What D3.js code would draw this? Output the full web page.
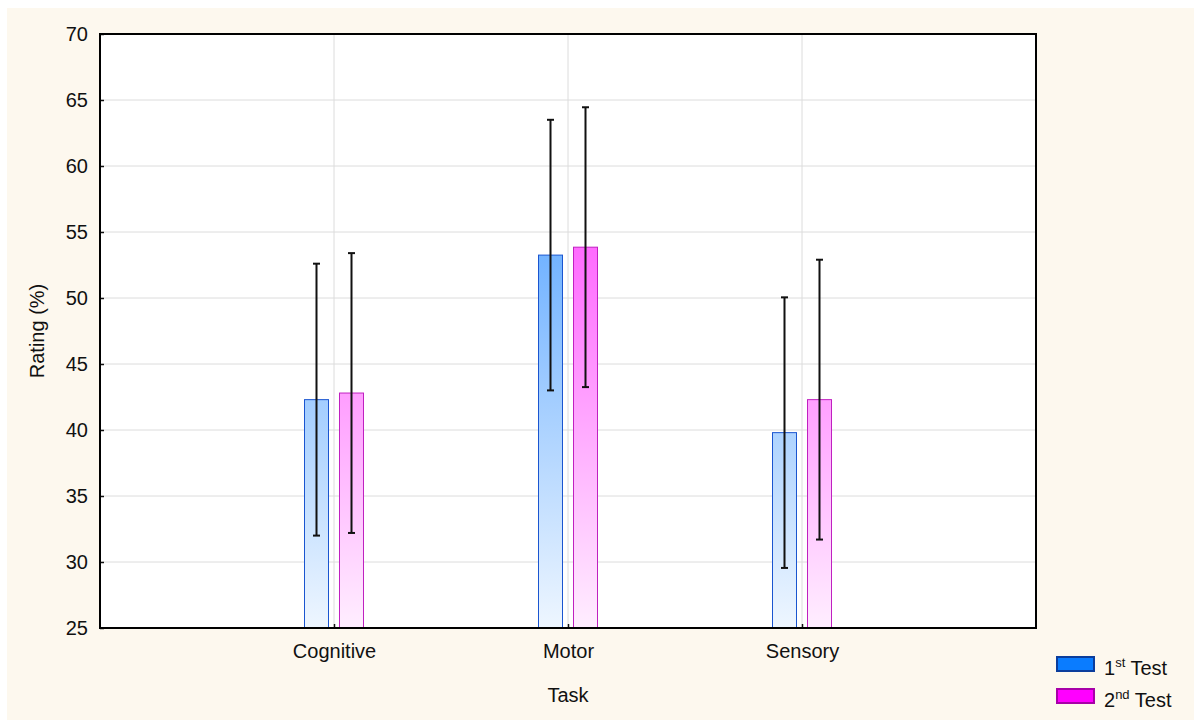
<!DOCTYPE html>
<html>
<head>
<meta charset="utf-8">
<script src="https://cdn.jsdelivr.net/npm/d3@7"></script>
<style>
  body { margin: 0; background: #ffffff; }
  svg { display: block; font-family: "Liberation Sans", Arial, sans-serif; }
</style>
</head>
<body>
<div id="graphicContainer"></div>
<script>
// data
var tasks = ["Cognitive", "Motor", "Sensory"]
var seriesNames = ["1st Test", "2nd Test"]
var test1Mean = [42.3, 53.25, 39.8]
var test1Ci = [10.3, 10.25, 10.25]
var test2Mean = [42.8, 53.85, 42.3]
var test2Ci = [10.6, 10.6, 10.6]
var yTicks = [25, 30, 35, 40, 45, 50, 55, 60, 65, 70]

var width = 1194, height = 720
var margin = {top: 34, right: 158, bottom: 92, left: 100}
var fontSize = 20

var svg = d3.select("#graphicContainer").append("svg")
	.attr("width", width)
	.attr("height", height)

// page background
svg.append("rect").attr("x", 7).attr("y", 8).attr("width", width - 7).attr("height", height - 8).attr("fill", "#fdf8ee")

var x = d3.scalePoint()
	.domain(tasks)
	.range([margin.left, width - margin.right])
	.padding(1)

var y = d3.scaleLinear()
	.domain([25, 70])
	.range([height - margin.bottom, margin.top])

var barW = 24, barOff = 17.5

var defs = svg.append("defs")
function grad(id, c0, c1) {
	var g = defs.append("linearGradient").attr("id", id)
		.attr("gradientUnits", "userSpaceOnUse")
		.attr("x1", 0).attr("x2", 0).attr("y1", y(70)).attr("y2", y(25))
	g.append("stop").attr("offset", "0%").attr("stop-color", c0)
	g.append("stop").attr("offset", "100%").attr("stop-color", c1)
}
grad("gBlue", "#2a8cff", "#eef6ff")
grad("gPink", "#ff22ff", "#ffeeff")

// plot area
svg.append("rect")
	.attr("x", margin.left).attr("y", margin.top)
	.attr("width", width - margin.left - margin.right)
	.attr("height", height - margin.top - margin.bottom)
	.attr("fill", "#ffffff")

// grid
svg.append("g").selectAll("line").data(yTicks.slice(1, -1)).enter().append("line")
	.attr("x1", margin.left).attr("x2", width - margin.right)
	.attr("y1", d => y(d)).attr("y2", d => y(d))
	.attr("stroke", "#dcdcdc").attr("stroke-width", 1)

svg.append("g").selectAll("line").data(tasks).enter().append("line")
	.attr("x1", d => x(d)).attr("x2", d => x(d))
	.attr("y1", margin.top).attr("y2", height - margin.bottom)
	.attr("stroke", "#dcdcdc").attr("stroke-width", 1)

var series = [
	{name: seriesNames[0], mean: test1Mean, ci: test1Ci, off: -barOff, fill: "url(#gBlue)", stroke: "#1a55d0", legFill: "#0a7cff", legStroke: "#0b3d9c"},
	{name: seriesNames[1], mean: test2Mean, ci: test2Ci, off: barOff, fill: "url(#gPink)", stroke: "#c020c0", legFill: "#ff00ff", legStroke: "#a800a8"}
]

series.forEach(function (s) {
	var g = svg.append("g")
	g.selectAll("rect").data(tasks).enter().append("rect")
		.attr("x", d => x(d) + s.off - barW / 2)
		.attr("y", (d, i) => y(s.mean[i]))
		.attr("width", barW)
		.attr("height", (d, i) => y(25) - y(s.mean[i]))
		.attr("fill", s.fill)
		.attr("stroke", s.stroke)
		.attr("stroke-width", 1)

	// error bars
	var e = svg.append("g").attr("stroke", "#111").attr("stroke-width", 2)
	tasks.forEach(function (d, i) {
		var cx = x(d) + s.off
		var lo = y(s.mean[i] - s.ci[i]), hi = y(s.mean[i] + s.ci[i])
		e.append("line").attr("x1", cx).attr("x2", cx).attr("y1", lo).attr("y2", hi)
		e.append("line").attr("x1", cx - 3.5).attr("x2", cx + 3.5).attr("y1", lo).attr("y2", lo)
		e.append("line").attr("x1", cx - 3.5).attr("x2", cx + 3.5).attr("y1", hi).attr("y2", hi)
	})
})

// axes
var yAxis = d3.axisLeft(y).tickValues(yTicks).tickSize(-4).tickPadding(12)
var gy = svg.append("g").attr("transform", "translate(" + margin.left + ",0)").call(yAxis)
gy.select(".domain").remove()
gy.selectAll("text").attr("font-size", fontSize).attr("fill", "#111").attr("font-family", "Liberation Sans, Arial, sans-serif")
gy.selectAll("line").attr("stroke", "#111").attr("stroke-width", 1.5)

var xAxis = d3.axisBottom(x).tickSize(-4).tickPadding(16)
var gx = svg.append("g").attr("transform", "translate(0," + (height - margin.bottom) + ")").call(xAxis)
gx.select(".domain").remove()
gx.selectAll("text").attr("font-size", fontSize).attr("fill", "#111").attr("font-family", "Liberation Sans, Arial, sans-serif")
gx.selectAll("line").attr("stroke", "#111").attr("stroke-width", 1.5)

// frame
svg.append("rect")
	.attr("x", margin.left).attr("y", margin.top)
	.attr("width", width - margin.left - margin.right)
	.attr("height", height - margin.top - margin.bottom)
	.attr("fill", "none").attr("stroke", "#000").attr("stroke-width", 2)

// axis titles
svg.append("text")
	.attr("x", (margin.left + width - margin.right) / 2).attr("y", 702)
	.attr("text-anchor", "middle").attr("font-size", fontSize).attr("fill", "#111")
	.text("Task")

svg.append("text")
	.attr("transform", "translate(44," + ((margin.top + height - margin.bottom) / 2) + ") rotate(-90)")
	.attr("text-anchor", "middle").attr("font-size", fontSize).attr("fill", "#111")
	.text("Rating (%)")

// legend
var legend = svg.append("g")
series.forEach(function (s, i) {
	var ly = 657 + i * 32
	legend.append("rect")
		.attr("x", 1057).attr("y", ly).attr("width", 37).attr("height", 14)
		.attr("fill", s.legFill).attr("stroke", s.legStroke).attr("stroke-width", 2)
	var parts = s.name.match(/^(\d)(\w+) (.*)$/)
	var t = legend.append("text").attr("x", 1104).attr("y", ly + 18).attr("font-size", fontSize).attr("fill", "#111")
	t.append("tspan").text(parts[1])
	t.append("tspan").attr("font-size", 13).attr("dy", -8).text(parts[2])
	t.append("tspan").attr("dy", 8).text(" " + parts[3])
})
</script>
</body>
</html>
